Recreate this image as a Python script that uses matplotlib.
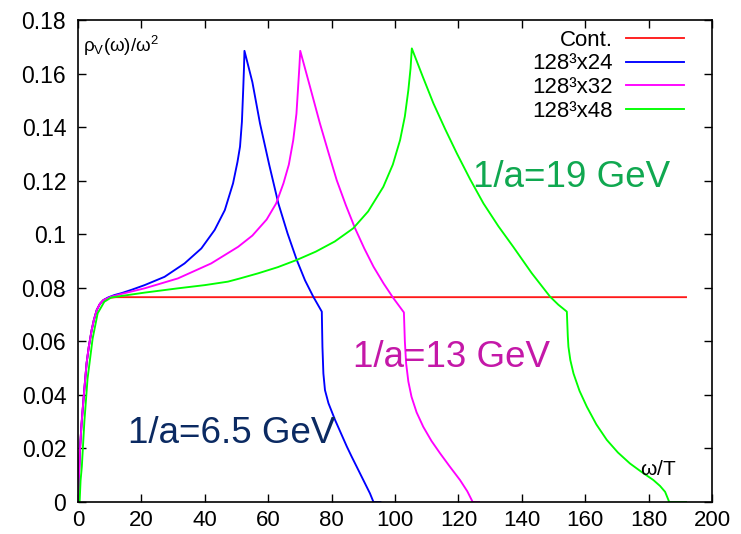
"""Vector spectral function on the lattice vs continuum."""

import matplotlib.pyplot as plt

plt.rcParams["font.family"] = ["Liberation Sans", "DejaVu Sans"]
plt.rcParams["mathtext.default"] = "regular"

# common low-omega rise, shared by the continuum, Nt=24 and Nt=32 curves
RISE_W = [0.0, 0.3, 0.6, 1.1, 1.7, 2.2, 2.7, 3.4, 4.3, 5.0, 5.9, 6.9, 8.0]
RISE_V = [0.0, 0.010, 0.0194, 0.029, 0.038, 0.045, 0.0518, 0.058, 0.0642,
          0.068, 0.0717, 0.074, 0.0754]

CONT_W = RISE_W + [9.5, 12.0, 191.8]
CONT_V = RISE_V + [0.0762, 0.0765, 0.0765]

NT24_W = RISE_W + [9.5, 11.5, 13.7, 17.0, 21.0, 27.3, 33.6, 38.9, 43.1, 46.3,
                   48.9, 50.3, 51.1, 51.7, 52.1, 52.35, 52.5,
                   55.0, 57.4, 60.3, 63.2, 66.1, 69.0, 71.6, 74.2, 76.9,
                   77.1, 77.4, 77.9, 79.0, 81.1, 84.8,
                   86.3, 87.9, 90.0, 92.1, 93.2, 95.4]
NT24_V = RISE_V + [0.0764, 0.0773, 0.078, 0.0793, 0.081, 0.0841, 0.0891,
                   0.0947, 0.1016, 0.109, 0.119, 0.127, 0.1327, 0.142,
                   0.1538, 0.162, 0.1685,
                   0.1568, 0.1414, 0.126, 0.1115, 0.1003, 0.0904, 0.0828,
                   0.0767, 0.0711,
                   0.058, 0.048, 0.0418, 0.0369, 0.0306, 0.0207,
                   0.017, 0.0132, 0.0082, 0.0032, 0.0, 0.0]

NT32_W = RISE_W + [9.5, 10.5, 14.0, 21.0, 31.5, 42.0, 50.5, 55.0, 59.5, 62.5,
                   64.8, 66.5, 67.9, 68.9, 69.5, 69.85, 70.1,
                   73.2, 76.3, 79.0, 81.6, 84.5, 87.4, 90.3, 93.2, 96.4,
                   99.5, 102.8,
                   103.1, 103.5, 104.2, 105.2, 106.8, 108.9, 111.5, 114.2,
                   117.3, 120.5, 122.8, 124.5, 126.5]
NT32_V = RISE_V + [0.0762, 0.0767, 0.0778, 0.0798, 0.0835, 0.0891, 0.0953,
                   0.0995, 0.1055, 0.1115, 0.119, 0.126, 0.1352, 0.145,
                   0.1563, 0.163, 0.1685,
                   0.155, 0.1414, 0.1305, 0.1202, 0.1108, 0.1022, 0.0947,
                   0.0879, 0.0816, 0.0761, 0.0708,
                   0.060, 0.0518, 0.045, 0.0393, 0.0335, 0.0281, 0.0228,
                   0.0182, 0.0132, 0.0082, 0.004, 0.0, 0.0]

NT48_W = [0.0, 0.5, 0.8, 1.2, 2.0, 3.0, 4.6, 6.2, 8.3, 10.5, 14.0, 21.0,
          31.5, 40.0, 47.3, 51.1, 56.8, 63.0, 69.0, 75.0, 81.0, 86.8, 91.5,
          96.3, 99.3, 101.6, 103.1, 104.2, 104.9, 105.3,
          108.7, 112.1, 115.8, 119.5, 123.7, 127.9, 132.6, 137.3, 143.1,
          148.9, 151.5, 154.2,
          154.5, 154.7, 155.3, 156.3, 158.2, 160.5, 163.5, 166.8, 170.3,
          174.1, 177.8, 181.5, 183.6, 185.2, 186.5, 191.8]
NT48_V = [0.0, 0.0, 0.008, 0.0132, 0.030, 0.046, 0.061, 0.0705, 0.0748,
          0.0764, 0.077, 0.0782, 0.0798, 0.081, 0.0823, 0.0835, 0.0854,
          0.0877, 0.0904, 0.0935, 0.0973, 0.1022, 0.1085, 0.1177, 0.126,
          0.1352, 0.144, 0.1538, 0.162, 0.1694,
          0.159, 0.1489, 0.1393, 0.1302, 0.1205, 0.1115, 0.103, 0.0953,
          0.0855, 0.0767, 0.0737, 0.0711,
          0.062, 0.058, 0.053, 0.048, 0.0415, 0.0356, 0.029, 0.0232,
          0.0185, 0.0144, 0.0112, 0.0082, 0.006, 0.0038, 0.0, 0.0]

SERIES = [
  ("Cont.", CONT_W, CONT_V, "#ff1a1a"),
  ("128³x24", NT24_W, NT24_V, "#0000ff"),
  ("128³x32", NT32_W, NT32_V, "#ff00ff"),
  ("128³x48", NT48_W, NT48_V, "#00ff00"),
]

LABELS = [
  ("1/a=6.5 GeV", 15.8, 0.0222, "#0b2a62"),
  ("1/a=13 GeV", 86.8, 0.0504, "#c418a8"),
  ("1/a=19 GeV", 124.6, 0.1176, "#10a850"),
]


def main() -> None:
  fig = plt.figure(figsize=(7.41, 5.34), dpi=100)
  ax = fig.add_axes([0.1053, 0.0599, 0.8556, 0.9026])

  for name, w, v, col in SERIES:
    ax.plot(w, v, color=col, lw=1.35, label=name)

  for txt, x, y, col in LABELS:
    ax.text(x, y, txt, color=col, fontsize=26.5, ha="left", va="baseline")

  ax.text(1.6, 0.168, r"$\rho_V(\omega)/\omega^2$", fontsize=13.5,
          ha="left", va="baseline")
  ax.text(177.3, 0.0101, r"$\omega$/T", fontsize=15, ha="left",
          va="baseline")

  ax.set_xlim(0, 200)
  ax.set_ylim(0, 0.18)
  ax.set_xticks(range(0, 201, 20))
  ax.set_yticks([i * 0.02 for i in range(10)])
  ax.set_yticklabels(["0", "0.02", "0.04", "0.06", "0.08", "0.1", "0.12",
                      "0.14", "0.16", "0.18"])
  ax.tick_params(direction="in", top=True, right=True, length=6, width=1)
  ax.tick_params(axis="y", labelsize=16.5, pad=8.5)
  ax.tick_params(axis="x", labelsize=16, pad=5.5)
  for sp in ax.spines.values():
    sp.set_linewidth(1.2)

  leg = ax.legend(loc="upper right", bbox_to_anchor=(0.956, 0.98),
                  frameon=False, fontsize=16, markerfirst=False,
                  handlelength=2.6, handletextpad=0.6, labelspacing=0.12,
                  borderpad=0.0, borderaxespad=0.0)
  for t in leg.get_texts():
    t.set_ha("right")

  fig.savefig("out.png", dpi=100)


if __name__ == "__main__":
  main()
